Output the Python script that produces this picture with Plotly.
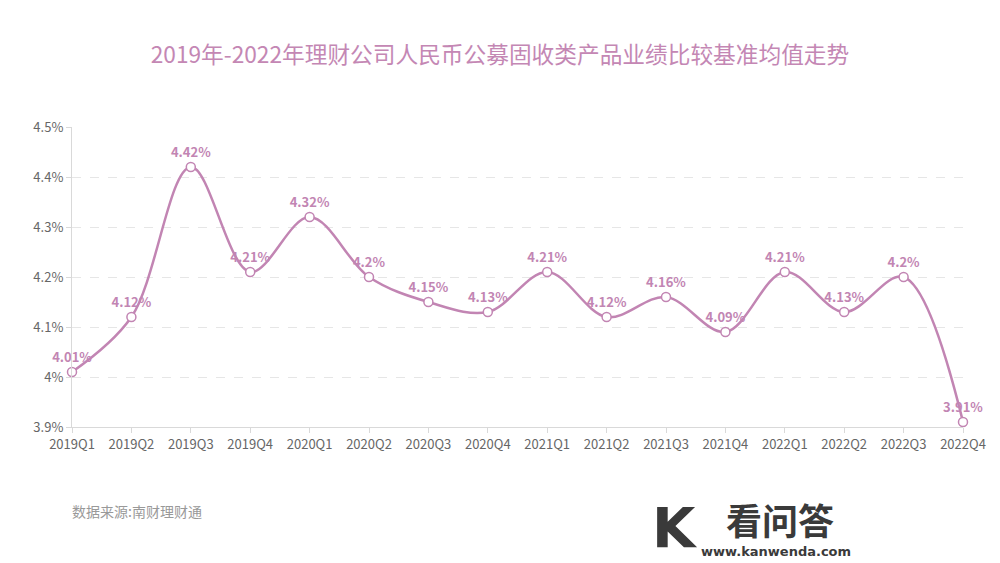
import plotly.graph_objects as go

quarters = ["2019Q1", "2019Q2", "2019Q3", "2019Q4", "2020Q1", "2020Q2", "2020Q3", "2020Q4",
            "2021Q1", "2021Q2", "2021Q3", "2021Q4", "2022Q1", "2022Q2", "2022Q3", "2022Q4"]
values = [4.01, 4.12, 4.42, 4.21, 4.32, 4.20, 4.15, 4.13, 4.21, 4.12, 4.16, 4.09, 4.21, 4.13, 4.20, 3.91]
value_labels = ["4.01%", "4.12%", "4.42%", "4.21%", "4.32%", "4.2%", "4.15%", "4.13%",
                "4.21%", "4.12%", "4.16%", "4.09%", "4.21%", "4.13%", "4.2%", "3.91%"]
y_ticks = [3.9, 4.0, 4.1, 4.2, 4.3, 4.4, 4.5]
y_tick_labels = ["3.9%", "4%", "4.1%", "4.2%", "4.3%", "4.4%", "4.5%"]

LINE = "#c285b3"
FONT = "Noto Sans CJK SC"

fig = go.Figure()
fig.add_trace(go.Scatter(
    x=quarters, y=values, mode="lines+markers+text",
    line=dict(color=LINE, width=2.5, shape="spline", smoothing=1.0),
    marker=dict(size=9, color="white", line=dict(color=LINE, width=1.5)),
    text=value_labels, textposition="top center",
    textfont=dict(family=FONT, size=13, color=LINE, weight=600),
    cliponaxis=False, hoverinfo="x+y", showlegend=False,
))

fig.update_layout(
    width=1000, height=563,
    margin=dict(l=72, r=37, t=127, b=136),
    paper_bgcolor="white", plot_bgcolor="white",
    font=dict(family=FONT, color="#666666", size=13),
    title=dict(text="2019年-2022年理财公司人民币公募固收类产品业绩比较基准均值走势",
               x=0.5, xanchor="center", y=1 - 55 / 563, yanchor="middle",
               font=dict(family=FONT, size=22.7, color="#c487b4")),
    xaxis=dict(type="category", range=[0, 15], showgrid=False,
               showline=True, linecolor="#d9d9d9", linewidth=1,
               ticks="outside", tickcolor="#d9d9d9", ticklen=5,
               tickfont=dict(size=13, color="#666666")),
    yaxis=dict(range=[3.9, 4.5], tickvals=y_ticks, ticktext=y_tick_labels,
               showgrid=True, gridcolor="#e6e6e6", griddash="dash",
               showline=True, linecolor="#d9d9d9", linewidth=1,
               ticks="outside", tickcolor="#d9d9d9", ticklen=5,
               tickfont=dict(size=13, color="#666666"), zeroline=False),
)
pw = 1000 - 72 - 37
ph = 563 - 127 - 136
def px(x): return (x - 72) / pw
def py(y): return (563 - 136 - y) / ph

fig.add_annotation(text="数据来源:南财理财通", x=px(70), y=py(511), xref="paper", yref="paper",
                   showarrow=False, xanchor="left", yanchor="middle",
                   font=dict(family=FONT, size=14, color="#999999"))
fig.add_annotation(text="<b>看问答</b>", x=px(724), y=py(519), xref="paper", yref="paper",
                   showarrow=False, xanchor="left", yanchor="middle",
                   font=dict(family=FONT, size=36, color="#3a3a3a"))
fig.add_annotation(text="<b>www.kanwenda.com</b>", x=px(699), y=py(551), xref="paper", yref="paper",
                   showarrow=False, xanchor="left", yanchor="middle",
                   font=dict(family="DejaVu Sans", size=13, color="#3a3a3a"))
fig.add_annotation(text="<b>K</b>", x=px(650), y=py(527), xref="paper", yref="paper",
                   showarrow=False, xanchor="left", yanchor="middle",
                   font=dict(family="DejaVu Sans", size=56, color="#3a3a3a"))

fig.write_html("out.html", config={"displayModeBar": False})
with open("out.html", "r", encoding="utf-8") as f:
    html = f.read()
html = html.replace("<body>", '<body style="margin:0;padding:0">', 1)
with open("out.html", "w", encoding="utf-8") as f:
    f.write(html)
